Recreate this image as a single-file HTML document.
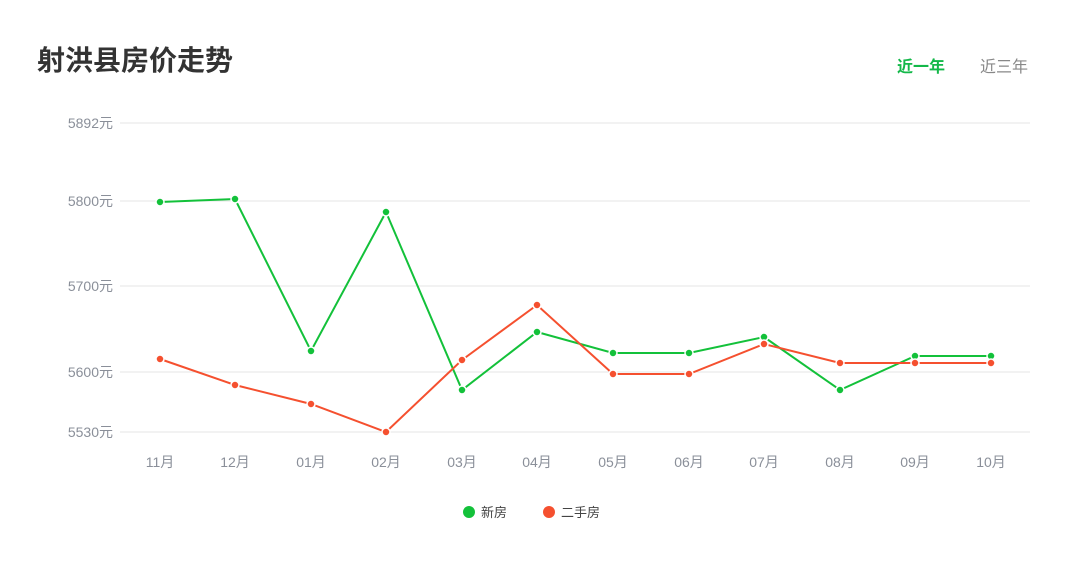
<!DOCTYPE html>
<html><head><meta charset="utf-8"><style>
body{margin:0;background:#fff;width:1080px;height:564px;overflow:hidden;font-family:"Liberation Sans","Noto Sans CJK SC",sans-serif}
</style></head><body>
<svg width="1080" height="564" xmlns="http://www.w3.org/2000/svg" font-family="Liberation Sans, Noto Sans CJK SC, sans-serif">
<text x="37" y="70" font-size="28" font-weight="bold" fill="#333">射洪县房价走势</text>
<text x="921" y="72" font-size="16" font-weight="bold" fill="#13b849" text-anchor="middle">近一年</text>
<text x="1004" y="72" font-size="16" fill="#888" text-anchor="middle">近三年</text>
<g stroke="#e6e6e6" stroke-width="1">
<line x1="120" y1="123" x2="1030" y2="123"/><line x1="120" y1="201" x2="1030" y2="201"/>
<line x1="120" y1="286" x2="1030" y2="286"/><line x1="120" y1="372" x2="1030" y2="372"/>
<line x1="120" y1="432" x2="1030" y2="432"/></g>
<g font-size="14" fill="#8a8f99" text-anchor="end">
<text x="113" y="128">5892元</text><text x="113" y="206">5800元</text><text x="113" y="291">5700元</text>
<text x="113" y="377">5600元</text><text x="113" y="437">5530元</text></g>
<g font-size="14" fill="#8a8f99" text-anchor="middle">
<text x="160" y="467">11月</text><text x="235" y="467">12月</text><text x="311" y="467">01月</text><text x="386" y="467">02月</text><text x="462" y="467">03月</text><text x="537" y="467">04月</text><text x="613" y="467">05月</text><text x="689" y="467">06月</text><text x="764" y="467">07月</text><text x="840" y="467">08月</text><text x="915" y="467">09月</text><text x="991" y="467">10月</text></g>
<polyline fill="none" stroke="#13c13a" stroke-width="2" points="160,202 235,199 311,351 386,212 462,390 537,332 613,353 689,353 764,337 840,390 915,356 991,356"/>
<polyline fill="none" stroke="#f5502f" stroke-width="2" points="160,359 235,385 311,404 386,432 462,360 537,305 613,374 689,374 764,344 840,363 915,363 991,363"/>
<g fill="#13c13a" stroke="#fff" stroke-width="1.5">
<circle cx="160" cy="202" r="4"/><circle cx="235" cy="199" r="4"/><circle cx="311" cy="351" r="4"/><circle cx="386" cy="212" r="4"/><circle cx="462" cy="390" r="4"/><circle cx="537" cy="332" r="4"/><circle cx="613" cy="353" r="4"/><circle cx="689" cy="353" r="4"/><circle cx="764" cy="337" r="4"/><circle cx="840" cy="390" r="4"/><circle cx="915" cy="356" r="4"/><circle cx="991" cy="356" r="4"/></g>
<g fill="#f5502f" stroke="#fff" stroke-width="1.5">
<circle cx="160" cy="359" r="4"/><circle cx="235" cy="385" r="4"/><circle cx="311" cy="404" r="4"/><circle cx="386" cy="432" r="4"/><circle cx="462" cy="360" r="4"/><circle cx="537" cy="305" r="4"/><circle cx="613" cy="374" r="4"/><circle cx="689" cy="374" r="4"/><circle cx="764" cy="344" r="4"/><circle cx="840" cy="363" r="4"/><circle cx="915" cy="363" r="4"/><circle cx="991" cy="363" r="4"/></g>
<circle cx="469" cy="512" r="6" fill="#13c13a"/><text x="481" y="517" font-size="13" fill="#444">新房</text>
<circle cx="549" cy="512" r="6" fill="#f5502f"/><text x="561" y="517" font-size="13" fill="#444">二手房</text>
</svg>
</body></html>
